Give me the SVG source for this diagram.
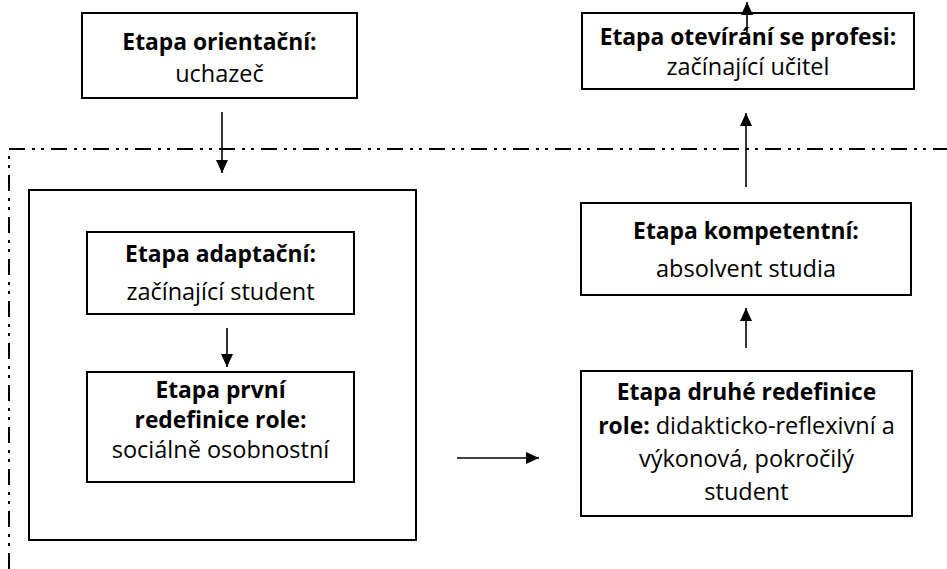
<svg xmlns="http://www.w3.org/2000/svg" width="947" height="569" viewBox="0 0 947 569">
<defs>
<style>
.box{fill:#fff;stroke:#000;stroke-width:2}
.t{font-family:"Open Sans","Noto Sans","Liberation Sans",sans-serif;font-size:23.5px;fill:#000;text-anchor:middle}
.b{font-weight:bold;font-size:22.8px}
.ln{stroke:#000;stroke-width:1.6;fill:none}
.dd{stroke:#000;stroke-width:2;fill:none;stroke-dasharray:16 7 3 6 3 7}
</style>
<marker id="ah" markerUnits="userSpaceOnUse" markerWidth="14" markerHeight="14" viewBox="0 0 14 14" refX="13" refY="7" orient="auto">
<path d="M0,1 L13,7 L0,13 Z" fill="#000"/>
</marker>
</defs>
<g id="frame">
<path class="dd" d="M9,569 V149 H947"/>
</g>
<g id="outer">
<rect class="box" x="29" y="190" width="387" height="350" fill="none"/>
</g>
<g id="orientacni">
<rect class="box" x="82" y="13" width="275" height="85"/>
<text class="t b" x="219.5" y="50">Etapa orientační:</text>
<text class="t" x="219.5" y="82">uchazeč</text>
</g>
<g id="oteviranisprofesi">
<rect class="box" x="582" y="13" width="332" height="76"/>
<text class="t b" x="748" y="45">Etapa otevírání se profesi:</text>
<text class="t" x="748" y="75">začínající učitel</text>
</g>
<g id="adaptacni">
<rect class="box" x="87" y="232" width="267" height="82"/>
<text class="t b" x="220.5" y="262">Etapa adaptační:</text>
<text class="t" x="220.5" y="300">začínající student</text>
</g>
<g id="prvni">
<rect class="box" x="87" y="372" width="267" height="110"/>
<text class="t b" x="220.5" y="398">Etapa první</text>
<text class="t b" x="220.5" y="428">redefinice role:</text>
<text class="t" x="220.5" y="458">sociálně osobnostní</text>
</g>
<g id="kompetentni">
<rect class="box" x="581" y="203" width="330" height="92"/>
<text class="t b" x="746" y="239">Etapa kompetentní:</text>
<text class="t" x="746" y="277">absolvent studia</text>
</g>
<g id="druhe">
<rect class="box" x="581" y="371" width="331" height="145"/>
<text class="t b" x="746.5" y="400">Etapa druhé redefinice</text>
<text class="t" x="746.5" y="434"><tspan class="b">role:</tspan> didakticko-reflexivní a</text>
<text class="t" x="746.5" y="467">výkonová, pokročilý</text>
<text class="t" x="746.5" y="500">student</text>
</g>
<g id="connectors">
<line class="ln" x1="222" y1="112" x2="222" y2="173" marker-end="url(#ah)"/>
<line class="ln" x1="227" y1="328" x2="227" y2="367" marker-end="url(#ah)"/>
<line class="ln" x1="457" y1="458" x2="539" y2="458" marker-end="url(#ah)"/>
<line class="ln" x1="746" y1="348" x2="746" y2="308" marker-end="url(#ah)"/>
<line class="ln" x1="746" y1="187" x2="746" y2="113" marker-end="url(#ah)"/>
<line class="ln" x1="747" y1="32" x2="747" y2="2" marker-end="url(#ah)"/>
</g>
</svg>
